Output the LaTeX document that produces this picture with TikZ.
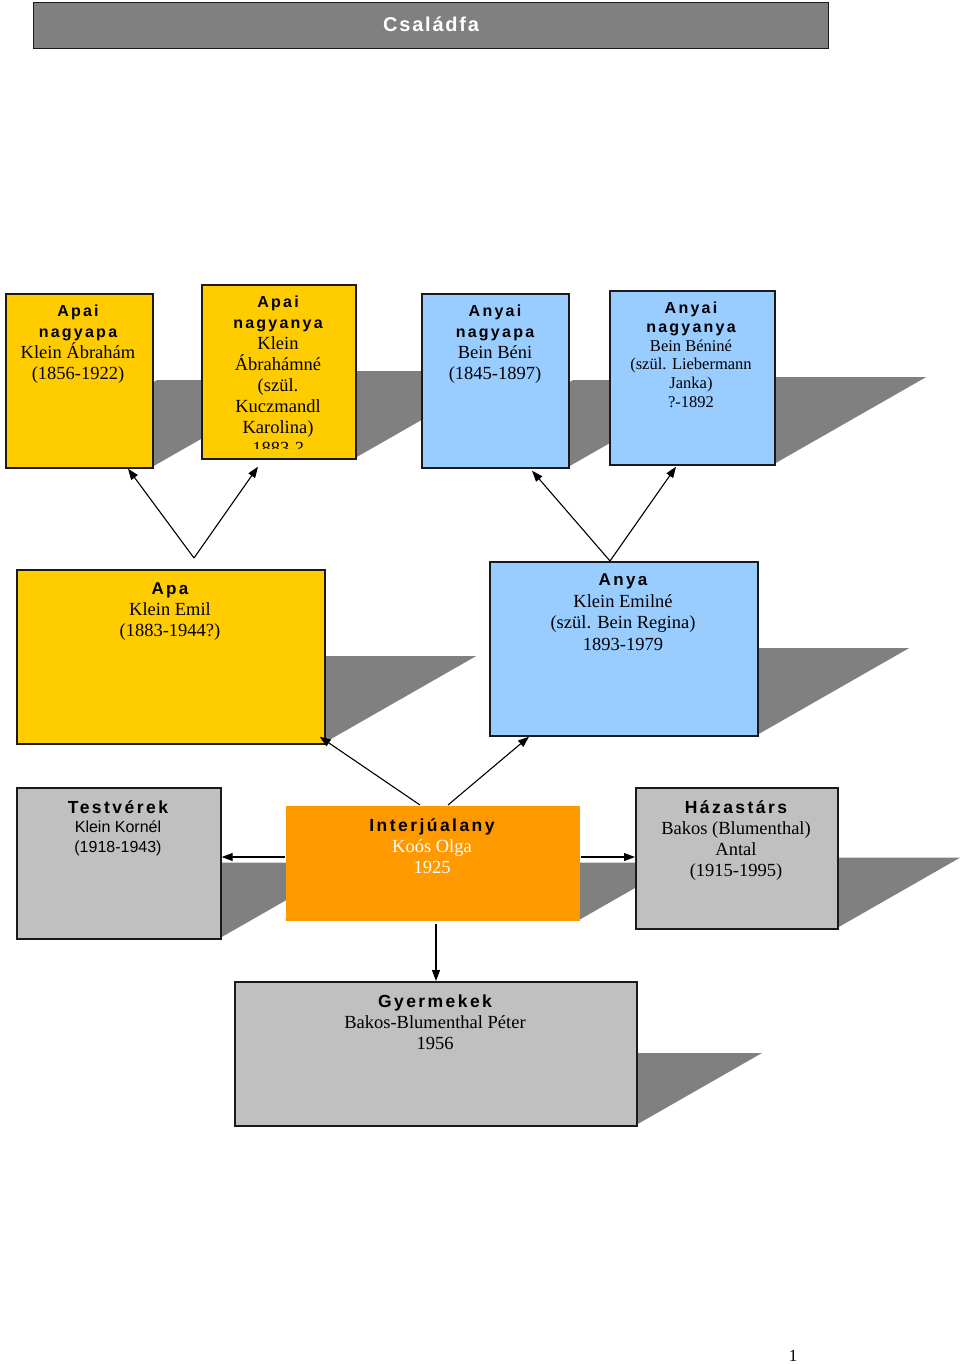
\documentclass[tikz,border=0pt]{standalone}
\usepackage{fontspec}
\setmainfont{Liberation Serif}
\newfontfamily\hdfam[LetterSpace=14]{Liberation Sans Bold}
\newfontfamily\sansfam{Liberation Sans}
\newfontfamily\ttlfam[LetterSpace=9]{Liberation Sans Bold}
\usetikzlibrary{backgrounds,arrows.meta}
\definecolor{yel}{HTML}{FFCC00}
\definecolor{blu}{HTML}{99CCFF}
\definecolor{gry}{HTML}{C0C0C0}
\definecolor{org}{HTML}{FF9900}
\definecolor{ttl}{HTML}{808080}
\definecolor{shadowc}{HTML}{808080}
\definecolor{edge}{HTML}{1A1A1A}
\newcommand\hd[2][16]{{\fontsize{#1}{21}\selectfont\hdfam #2}}
\tikzset{
  box/.style={draw=edge,line width=1.7pt,inner sep=0pt,anchor=north west},
  txt/.style={align=center,inner sep=0pt,anchor=north,font=\fontsize{18.5}{21}\selectfont},
  arr/.style={draw=black,line width=1.1pt,-{Triangle[length=11pt,width=8pt]}}
}
% optional style, name, xl, yt, xr, yb, fill
\newcommand\bx[7][]{%
  \node[box,fill=#7,minimum width={(#5-#3)*1pt},minimum height={(#6-#4)*1pt},#1] (#2) at (#3,#4) {};
  \begin{scope}[on background layer]
    \fill[shadowc] (#3,#6) -- (#5,#6) -- ({#5+0.875*(#6-#4)},{(#6+#4)/2}) -- ({#3+0.875*(#6-#4)},{(#6+#4)/2}) -- cycle;
  \end{scope}}
\begin{document}
\begin{tikzpicture}[x=1pt,y=-1pt]
\begin{scope}[on background layer]
\fill[white] (0,0) rectangle (960,1364);
\end{scope}
\useasboundingbox (0,0) rectangle (960,1364);

% title
\node[draw=edge,line width=1.2pt,fill=ttl,anchor=north west,minimum width=795pt,minimum height=46pt,inner sep=0pt,
      text=white,font=\fontsize{20}{22}\selectfont\ttlfam] (title) at (33,2) {\raisebox{3pt}{Családfa}};

% boxes
\bx{ap1}{5}{293}{152}{467}{yel}
\bx{ap2}{201}{284}{355}{458}{yel}
\bx{an1}{421}{293}{568}{467}{blu}
\bx{an2}{609}{290}{774}{464}{blu}
\bx{apa}{16}{569}{324}{743}{yel}
\bx{anya}{489}{561}{757}{735}{blu}
\bx{tv}{16}{787}{220}{938}{gry}
\bx[draw=none]{ia}{285}{805}{579}{920}{org}
\bx{hz}{635}{787}{837}{928}{gry}
\bx{gy}{234}{981}{636}{1125}{gry}

% texts
\node[txt] (t1) at (78,305) {\hd{Apai}\\\hd{nagyapa}\\Klein Ábrahám\\(1856-1922)};
\begin{scope}
\clip (201,284) rectangle (355,448.5);
\node[txt] (t2) at (278,296) {\hd{Apai}\\\hd{nagyanya}\\Klein\\Ábrahámné\\(szül.\\Kuczmandl\\Karolina)\\1883-?};
\end{scope}
\node[txt] (t3) at (495,305) {\hd{Anyai}\\\hd{nagyapa}\\Bein Béni\\(1845-1897)};
\node[txt,font=\fontsize{16.5}{18.7}\selectfont] (t4) at (691,302) {\hd{Anyai}\\\hd{nagyanya}\\Bein Béniné\\(szül. Liebermann\\Janka)\\?-1892};
\node[txt,font=\fontsize{18.5}{21}\selectfont] (t5) at (170,583) {\hd[17]{Apa}\\Klein Emil\\(1883-1944?)};
\node[txt,font=\fontsize{18.5}{21.5}\selectfont] (t6) at (623,574) {\hd[17]{Anya}\\Klein Emilné\\(szül. Bein Regina)\\1893-1979};
\node[txt,font=\fontsize{16}{19.5}\selectfont\sansfam] (t7) at (118,800) {\hd[17.5]{Testvérek}\\Klein Kornél\\(1918-1943)};
\node[txt,font=\fontsize{18.5}{21}\selectfont,text=white] (t8) at (432,818) {\textcolor{black}{\hd[17.5]{Interjúalany}}\\Koós Olga\\1925};
\node[txt,font=\fontsize{18.5}{21.3}\selectfont] (t9) at (736,800) {\hd[17.5]{Házastárs}\\Bakos (Blumenthal)\\Antal\\(1915-1995)};
\node[txt,font=\fontsize{18.5}{21}\selectfont] (t10) at (435,995) {\hd[17.5]{Gyermekek}\\Bakos-Blumenthal Péter\\1956};

% connectors
\coordinate (apaup) at (194,558);
\coordinate (anyaup) at ([xshift=121pt]anya.north west);
\draw[arr] (apaup) -- ([xshift=123pt]ap1.south west);
\draw[arr] (apaup) -- ([xshift=57pt,yshift=-7pt]ap2.south west);
\draw[arr] (anyaup) -- ([xshift=111pt,yshift=-2pt]an1.south west);
\draw[arr] (anyaup) -- ([xshift=67pt,yshift=-1pt]an2.south west);
\draw[arr] ([xshift=135pt]ia.north west) -- ([xshift=-6pt,yshift=8pt]apa.south east);
\draw[arr] ([xshift=163pt]ia.north west) -- ([xshift=40pt]anya.south west);
\draw[arr] ([yshift=-52pt]ia.north west) -- ([yshift=-70pt]tv.north east);
\draw[arr] ([yshift=-52pt]ia.north east) -- ([yshift=-70pt]hz.north west);
\draw[arr] ([xshift=151pt,yshift=-2pt]ia.south west) -- ([xshift=202pt]gy.north west);

% page number
\node[inner sep=0pt,font=\fontsize{17}{20}\selectfont] (pn) at (793,1356) {1};
\end{tikzpicture}
\end{document}
